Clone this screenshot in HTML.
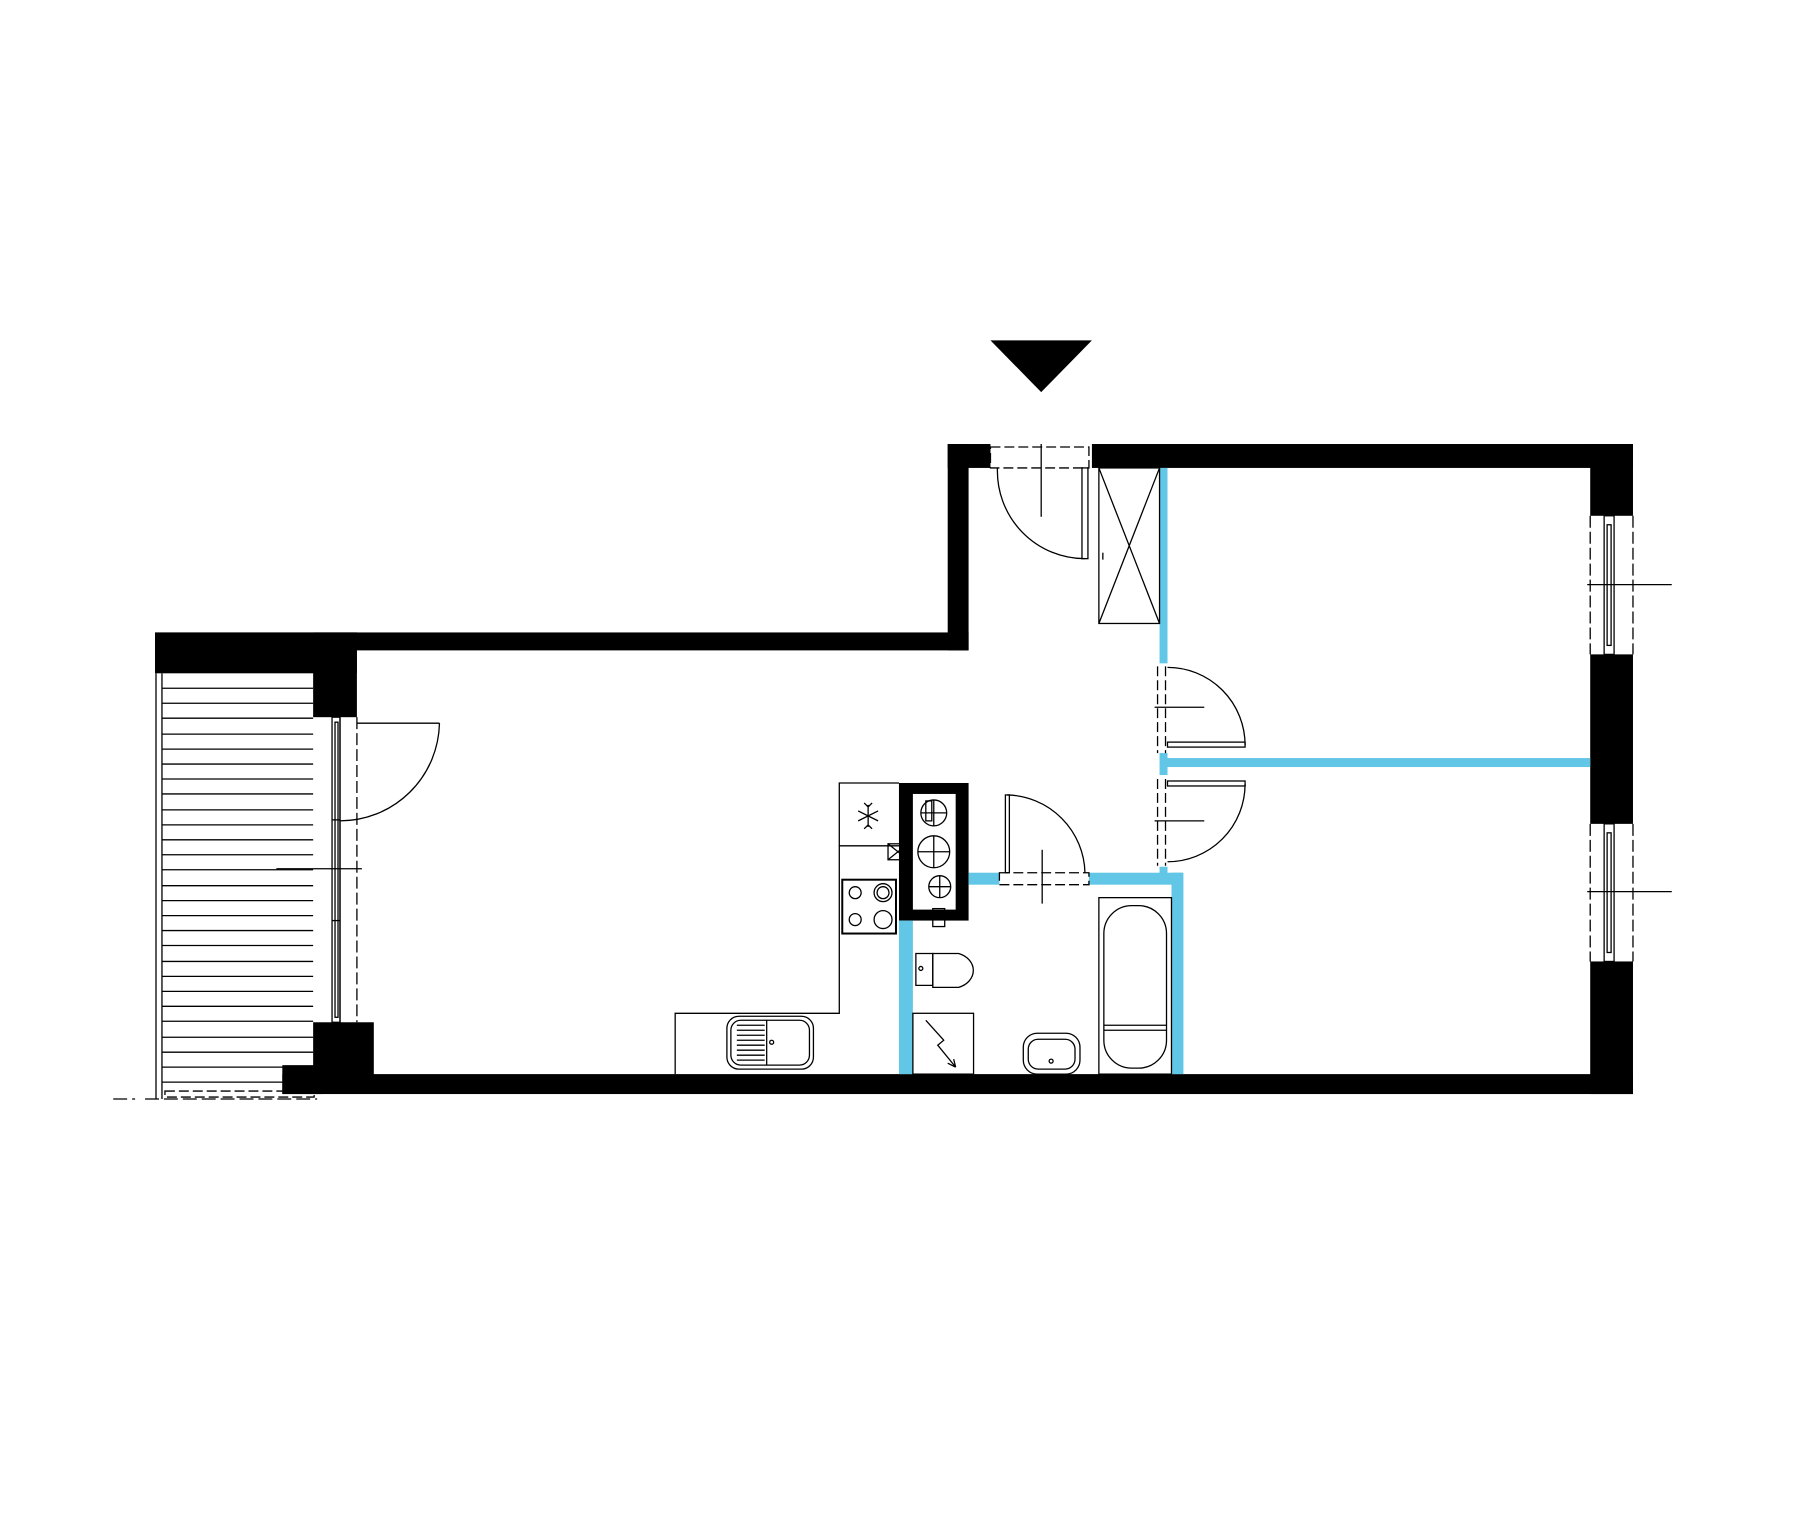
<!DOCTYPE html>
<html><head><meta charset="utf-8"><style>html,body{margin:0;padding:0;background:#fff}svg{display:block}</style></head>
<body>
<svg width="1800" height="1520" viewBox="0 0 1800 1520" xmlns="http://www.w3.org/2000/svg">
<rect width="1800" height="1520" fill="#fff"/>
<g transform="matrix(0.9946,0,0,0.997,0.84,-1.65)">
<polygon points="995,343 1097,343 1046,395" fill="#000"/>
<g fill="#000">
<rect x="1097" y="447" width="544" height="24"/>
<rect x="952" y="447" width="43" height="24"/>
<rect x="952" y="447" width="21" height="207"/>
<rect x="155" y="636" width="818" height="18"/>
<rect x="155" y="636" width="203" height="41"/>
<rect x="314" y="636" width="44" height="85"/>
<rect x="314" y="1027" width="61" height="60"/>
<rect x="283" y="1070" width="40" height="29"/>
<rect x="283" y="1079" width="1358" height="20"/>
<rect x="1598" y="447" width="43" height="72"/>
<rect x="1598" y="658" width="43" height="170"/>
<rect x="1598" y="966" width="43" height="133"/>
<rect x="903" y="787" width="70" height="138"/>
</g>
<rect x="917" y="798" width="43" height="116" fill="#fff"/>
<g fill="#62c6e6">
<rect x="1165" y="471" width="8" height="196"/>
<rect x="1165" y="757" width="8" height="22"/>
<rect x="1173" y="762" width="425" height="9"/>
<rect x="1165" y="871" width="8" height="12"/>
<rect x="973" y="877" width="31" height="12"/>
<rect x="1094" y="877" width="94" height="12"/>
<rect x="1177" y="877" width="12" height="202"/>
<rect x="903" y="925" width="14" height="154"/>
</g>
<g fill="none" stroke="#000" stroke-width="1.3">
<line x1="156" y1="677" x2="156" y2="1104"/>
<line x1="162" y1="677" x2="162" y2="1104"/>
<path d="M162 692H314M162 707H314M162 722H314M162 738H314M162 753H314M162 768H314M162 783H314M162 798H314M162 814H314M162 829H314M162 844H314M162 859H314M162 874H314M162 890H314M162 905H314M162 920H314M162 935H314M162 950H314M162 966H314M162 981H314M162 996H314M162 1011H314M162 1026H314M162 1042H314M162 1057H314M162 1072H314M162 1087H314"/>
<path d="M113 1104H135M145 1104H318" stroke-dasharray="14,5"/>
<rect x="165" y="1096" width="150" height="6" stroke-dasharray="10,4"/>
<rect x="333" y="721" width="8" height="306"/>
<rect x="336" y="726" width="3" height="296"/>
<line x1="341" y1="721" x2="341" y2="1027"/>
<line x1="358" y1="721" x2="358" y2="1027" stroke-dasharray="12,4"/>
<line x1="333" y1="824" x2="341" y2="824"/><line x1="333" y1="925" x2="341" y2="925"/>
<line x1="358" y1="727" x2="441" y2="727"/>
<path d="M441 727 A100 100 0 0 1 341 825"/>
<line x1="277" y1="873" x2="363" y2="873"/>
<rect x="995" y="450" width="99" height="21" stroke-dasharray="10,4"/>
<line x1="1046" y1="447" x2="1046" y2="520"/>
<rect x="1087" y="471" width="6" height="91"/>
<path d="M1002 471 A88 88 0 0 0 1090 562"/>
<rect x="1104" y="471" width="61" height="156"/>
<path d="M1104 471L1165 627M1165 471L1104 627"/>
<line x1="1108" y1="556" x2="1108" y2="563"/>
<path d="M1163 670V757M1171 670V757" stroke-dasharray="10,4"/>
<path d="M1163 783V870M1171 783V870" stroke-dasharray="10,4"/>
<rect x="1173" y="746" width="78" height="5"/>
<path d="M1173 671 A78 78 0 0 1 1251 749"/>
<line x1="1160" y1="711" x2="1210" y2="711"/>
<rect x="1173" y="785" width="78" height="5"/>
<path d="M1251 788 A78 78 0 0 1 1173 866"/>
<line x1="1160" y1="825" x2="1210" y2="825"/>
<path d="M1598 519V658M1641 519V658M1598 828V966M1641 828V966" stroke-dasharray="12,4"/>
<rect x="1612" y="519" width="10" height="139"/><rect x="1615" y="528" width="4" height="121"/>
<rect x="1612" y="828" width="10" height="138"/><rect x="1615" y="837" width="4" height="120"/>
<line x1="1595" y1="588" x2="1680" y2="588"/>
<line x1="1595" y1="896" x2="1680" y2="896"/>
<rect x="1004" y="877" width="90" height="12" stroke-dasharray="10,4"/>
<rect x="1010" y="799" width="4" height="78"/>
<path d="M1012 799 A80 80 0 0 1 1090 877"/>
<line x1="1047" y1="854" x2="1047" y2="908"/>
<path d="M903 787H843V1018H678V1079"/>
<line x1="843" y1="850" x2="903" y2="850"/>
<rect x="846" y="884" width="54" height="54" stroke-width="2"/>
<circle cx="859" cy="897" r="6"/><circle cx="887" cy="897" r="9"/><circle cx="887" cy="897" r="6"/>
<circle cx="859" cy="924" r="6"/><circle cx="887" cy="924" r="9"/>
<path d="M872 809V831M862 815L882 825M882 815L862 825M868 807L872 811L876 807M868 833L872 829L876 833"/>
<rect x="730" y="1021" width="87" height="53" rx="12"/>
<rect x="734" y="1025" width="79" height="45" rx="10"/>
<path d="M770 1025V1070"/>
<path d="M740 1030H768M740 1035H768M740 1040H768M740 1045H768M740 1050H768M740 1055H768M740 1060H768M740 1065H768"/>
<circle cx="775" cy="1047" r="2"/>
<circle cx="938" cy="817" r="13"/><path d="M925 817H951M938 804V830"/>
<circle cx="938" cy="856" r="16"/><path d="M922 856H954M938 840V872"/>
<circle cx="944" cy="891" r="11"/><path d="M933 891H955M944 880V902"/>
<rect x="930" y="805" width="6" height="20"/>
<rect x="892" y="848" width="20" height="16"/><path d="M892 848L912 864M912 848L892 864"/>
<rect x="937" y="913" width="12" height="18"/>
<path d="M920 958H937V990H920Z"/>
<path d="M937 958H963A22 18 0 0 1 963 992H937Z"/>
<circle cx="925" cy="973" r="2"/>
<rect x="917" y="1018" width="61" height="61"/>
<path d="M930 1025L948 1045L942 1050L960 1072M960 1072L952 1068M960 1072L958 1064"/>
<rect x="1028" y="1038" width="57" height="41" rx="14"/>
<rect x="1033" y="1044" width="47" height="30" rx="10"/>
<circle cx="1056" cy="1066" r="2"/>
<rect x="1104" y="902" width="73" height="177"/>
<rect x="1109" y="910" width="63" height="163" rx="28"/>
<path d="M1109 1030H1172M1109 1035H1172"/>
</g>
</g>
</svg>
</body></html>
